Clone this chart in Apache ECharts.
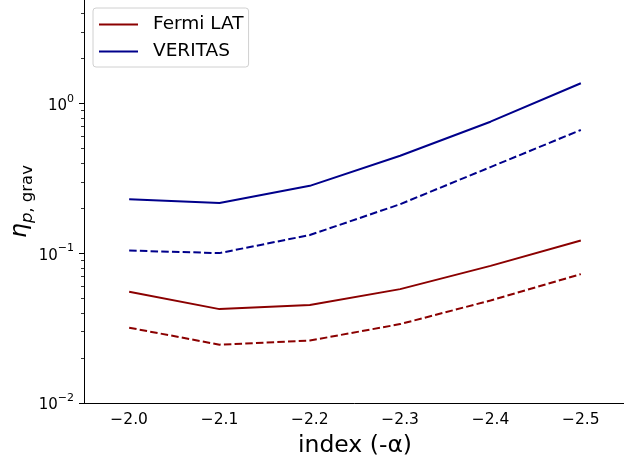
<!DOCTYPE html>
<html>
<head>
<meta charset="utf-8">
<script src="https://cdn.jsdelivr.net/npm/echarts@6/dist/echarts.min.js"></script>
<style>
  html, body { margin: 0; padding: 0; background: #fff; }
  #chart { width: 624px; height: 463px; }
</style>
</head>
<body>
<div id="chart"></div>
<script>
// spectral index categories (x axis)
var indexLabels = ['\u22122.0', '\u22122.1', '\u22122.2', '\u22122.3', '\u22122.4', '\u22122.5'];

// eta_p,grav values
var fermiSolid = [0.0552, 0.0423, 0.0450, 0.0575, 0.0822, 0.1213];
var fermiDashed = [0.0318, 0.0245, 0.0261, 0.0336, 0.0483, 0.0724];
var veritasSolid = [0.229, 0.216, 0.281, 0.446, 0.753, 1.36];
var veritasDashed = [0.104, 0.100, 0.132, 0.212, 0.375, 0.663];

// log axis minor ticks (2..9 x 10^k)
var minorTickValues = [0.02, 0.03, 0.04, 0.05, 0.06, 0.07, 0.08, 0.09,
    0.2, 0.3, 0.4, 0.5, 0.6, 0.7, 0.8, 0.9, 2, 3, 4];

var fermiColor = '#8b0000';
var veritasColor = '#00008b';
var font = 'DejaVu Sans';

var chart = echarts.init(document.getElementById('chart'));

function lineSeries(name, data, color, dashed) {
    return {
        name: name,
        type: 'line',
        data: data,
        symbol: 'none',
        silent: true,
        lineStyle: { color: color, width: 2, type: dashed ? [7.5, 3.2] : 'solid' },
        itemStyle: { color: color }
    };
}

var option = {
    animation: false,
    backgroundColor: '#fff',
    grid: { left: 84, right: -2, top: 0, bottom: 60, containLabel: false, outerBoundsMode: 'none' },
    legend: {
        data: ['Fermi LAT', 'VERITAS'],
        orient: 'vertical',
        left: 93,
        top: 8,
        padding: [6, 5, 5, 6],
        itemGap: 6,
        itemWidth: 39,
        itemHeight: 2,
        icon: 'rect',
        backgroundColor: '#fff',
        borderColor: '#d0d0d0',
        borderWidth: 1,
        borderRadius: 3,
        textStyle: {
            fontFamily: font, fontSize: 18.5, color: '#000',
            lineHeight: 21, padding: [0, 0, 0, 10]
        }
    },
    xAxis: {
        type: 'category',
        data: indexLabels,
        boundaryGap: true,
        name: 'index (-\u03b1)',
        nameLocation: 'middle',
        nameGap: 31,
        nameMoveOverlap: false,
        nameTextStyle: { fontFamily: font, fontSize: 23.5, color: '#000' },
        axisLine: { lineStyle: { color: '#000', width: 1 } },
        axisTick: { alignWithLabel: true, length: 5, lineStyle: { color: '#000', width: 1 } },
        axisLabel: { fontFamily: font, fontSize: 15.5, color: '#000', margin: 9 },
        splitLine: { show: false }
    },
    yAxis: {
        type: 'log',
        logBase: 10,
        min: 0.01,
        max: 4.883,
        name: '{eta|\u03b7}{sub|p}{sub2|, grav}',
        nameLocation: 'middle',
        nameRotate: 90,
        nameGap: 48,
        nameMoveOverlap: false,
        nameTextStyle: {
            color: '#000',
            rich: {
                eta: { fontFamily: font, fontStyle: 'italic', fontSize: 23.5, lineHeight: 28, verticalAlign: 'top', color: '#000' },
                sub: { fontFamily: font, fontStyle: 'italic', fontSize: 16.5, lineHeight: 18, verticalAlign: 'bottom', color: '#000' },
                sub2: { fontFamily: font, fontSize: 16.5, lineHeight: 18, verticalAlign: 'bottom', color: '#000' }
            }
        },
        axisLine: { show: true, lineStyle: { color: '#000', width: 1 } },
        axisTick: { show: true, length: 5, lineStyle: { color: '#000', width: 1 } },
        splitLine: { show: false },
        axisLabel: {
            showMaxLabel: false,
            margin: 10,
            formatter: function (v) {
                var e = Math.round(Math.log10(v));
                return '{b|10}{sup|' + (e < 0 ? '\u2212' : '') + Math.abs(e) + '}';
            },
            rich: {
                b: { fontFamily: font, fontSize: 15, lineHeight: 20, verticalAlign: 'bottom', color: '#000' },
                sup: { fontFamily: font, fontSize: 11, lineHeight: 12, verticalAlign: 'top', color: '#000' }
            }
        }
    },
    series: [
        lineSeries('Fermi LAT', fermiSolid, fermiColor, false),
        lineSeries('Fermi LAT limit', fermiDashed, fermiColor, true),
        lineSeries('VERITAS', veritasSolid, veritasColor, false),
        lineSeries('VERITAS limit', veritasDashed, veritasColor, true),
        {
            name: 'minor ticks',
            type: 'custom',
            silent: true,
            clip: false,
            data: minorTickValues.map(function (v) { return [0, v]; }),
            renderItem: function (params, api) {
                var pt = api.coord([api.value(0), api.value(1)]);
                var x0 = params.coordSys.x;
                var y = Math.round(pt[1]) + 0.5;
                return {
                    type: 'line',
                    shape: { x1: x0 - 3, y1: y, x2: x0, y2: y },
                    style: { stroke: '#000', lineWidth: 0.8 }
                };
            }
        }
    ]
};

chart.setOption(option);
</script>
</body>
</html>
